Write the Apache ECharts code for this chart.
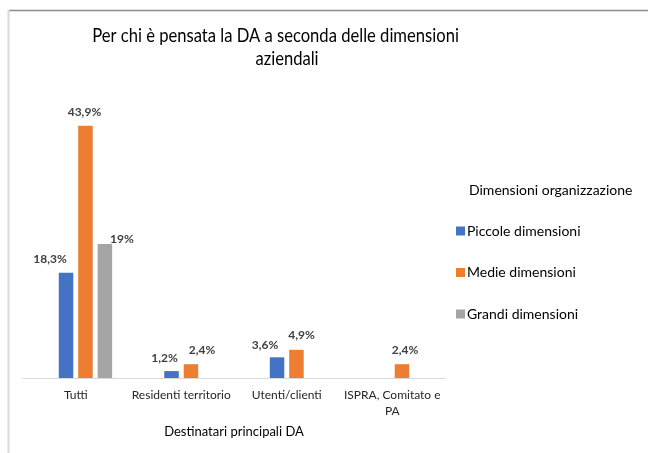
<!DOCTYPE html>
<html>
<head>
<meta charset="utf-8">
<script src="https://cdn.jsdelivr.net/npm/echarts@6/dist/echarts.min.js"></script>
<style>html,body{margin:0;padding:0;background:#fff}#c{width:648px;height:453px}</style>
</head>
<body>
<div id="c"></div>
<script>
// ---- data ----
const categories = ['Tutti', 'Residenti territorio', 'Utenti/clienti', 'ISPRA, Comitato e\nPA'];
const seriesNames = ['Piccole dimensioni', 'Medie dimensioni', 'Grandi dimensioni'];
const piccole = [18.3, 1.2, 3.6, null];
const medie = [43.9, 2.4, 4.9, 2.4];
const grandi = [23.3, null, null, null];
const emptySlot = [null, null, null, null];
const piccoleLabels = ['18,3%', '1,2%', '3,6%', ''];
const medieLabels = ['43,9%', '2,4%', '4,9%', '2,4%'];
const grandiLabels = ['19%', '', '', ''];
const titleLine1 = 'Per chi è pensata la DA a seconda delle dimensioni';
const titleLine2 = 'aziendali';
const legendTitle = 'Dimensioni organizzazione';
const axisName = 'Destinatari principali DA';

// ---- styling ----
const FONT = 'Lato';
const colors = ['#4472C4', '#ED7D31', '#A5A5A5'];
const offsets = [
  [[-16, -3], [-7, -2], [-12, -1], [0, 0]],
  [[-1, -3], [11, -3], [5, -4], [3, -3]],
  [[17, 6], [0, 0], [0, 0], [0, 0]]
];
const dataSets = [piccole, medie, grandi];
const labelSets = [piccoleLabels, medieLabels, grandiLabels];

const barCommon = { type: 'bar', barWidth: 14.5, barGap: '34%' };

function buildSeries(i) {
  return Object.assign({}, barCommon, {
    name: seriesNames[i],
    itemStyle: { color: colors[i] },
    data: dataSets[i].map((v, j) => ({
      value: v,
      label: {
        show: v != null,
        position: 'top',
        distance: 5,
        offset: offsets[i][j],
        formatter: labelSets[i][j],
        fontFamily: FONT,
        fontWeight: 'bold',
        fontSize: 12,
        color: '#404040'
      }
    }))
  });
}

const chart = echarts.init(document.getElementById('c'));
chart.setOption({
  animation: false,
  backgroundColor: '#fff',
  textStyle: { fontFamily: FONT },
  grid: { left: 23, right: 203, top: 90.6, bottom: 75, containLabel: false },
  xAxis: {
    type: 'category',
    data: categories,
    axisLine: { lineStyle: { color: '#d9d9d9', width: 1 } },
    axisTick: { show: false },
    axisLabel: { interval: 0, margin: 9, fontSize: 12, color: '#262626', fontFamily: FONT, lineHeight: 16 },
    name: axisName,
    nameLocation: 'middle',
    nameGap: 47,
    nameTextStyle: { fontSize: 13, color: '#000', fontFamily: FONT }
  },
  yAxis: { type: 'value', min: 0, max: 50, show: false },
  legend: {
    data: seriesNames,
    orient: 'vertical',
    left: 456,
    top: 224,
    padding: 0,
    itemWidth: 9,
    itemHeight: 9,
    itemGap: 27.5,
    icon: 'rect',
    textStyle: { fontSize: 14, color: '#000', fontFamily: FONT, padding: [0, 0, 0, -3] }
  },
  graphic: [
    { type: 'line', shape: { x1: 9, y1: 10.5, x2: 648, y2: 10.5 }, style: { stroke: '#8c8c8c', lineWidth: 1.5 }, silent: true },
    { type: 'line', shape: { x1: 8.5, y1: 10, x2: 8.5, y2: 453 }, style: { stroke: '#d9d9d9', lineWidth: 2 }, silent: true },
    { type: 'text', x: 275.5, y: 26, scaleX: 0.83, style: { text: titleLine1, fontSize: 20, fontFamily: FONT, fill: '#000', align: 'center' } },
    { type: 'text', x: 287, y: 49, scaleX: 0.83, style: { text: titleLine2, fontSize: 20, fontFamily: FONT, fill: '#000', align: 'center' } },
    { type: 'text', x: 469, y: 183, style: { text: legendTitle, fontSize: 14, fontFamily: FONT, fill: '#000' } }
  ],
  series: [Object.assign({}, barCommon, { name: '', data: emptySlot, silent: true })]
    .concat([0, 1, 2].map(buildSeries))
});
</script>
</body>
</html>
